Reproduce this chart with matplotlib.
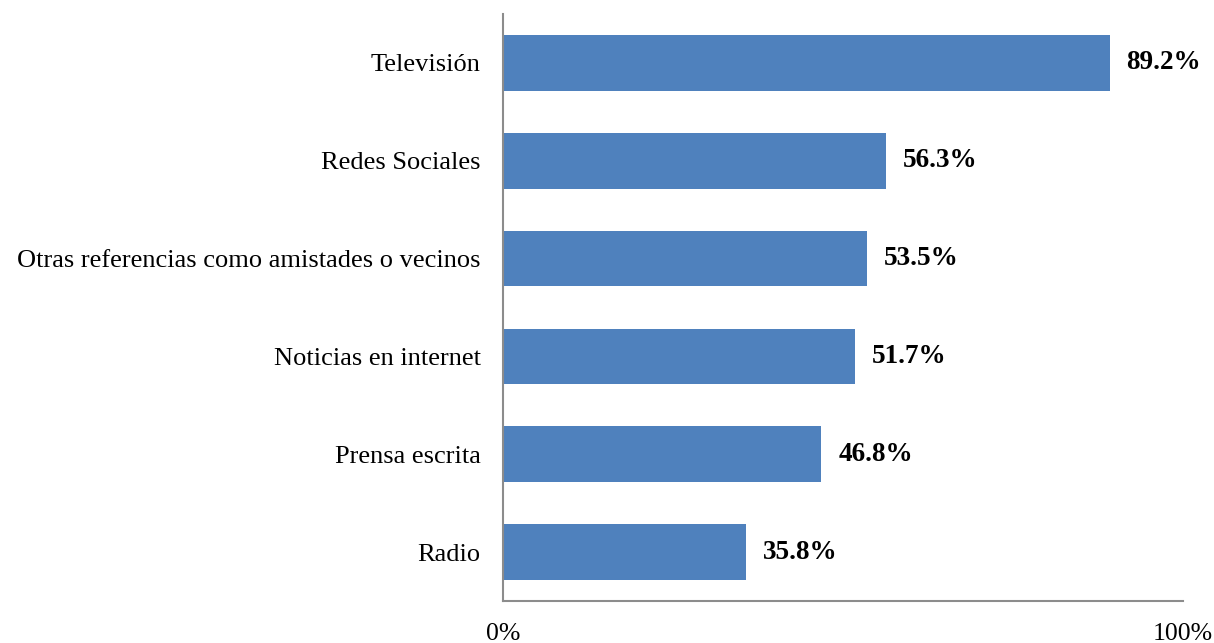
import matplotlib.pyplot as plt
import numpy as np

categorias = ['Televisión', 'Redes Sociales', 'Otras referencias como amistades o vecinos',
              'Noticias en internet', 'Prensa escrita', 'Radio']
valores = [89.2, 56.3, 53.5, 51.7, 46.8, 35.8]

plt.rcParams['font.family'] = ['Liberation Serif', 'DejaVu Serif']

fig = plt.figure(figsize=(12.14, 6.43), dpi=100)
ax = fig.add_axes([0.4143, 0.0653, 0.5602, 0.9129])

y = np.arange(len(categorias))
bars = ax.barh(y, valores, height=0.57, color='#4F81BD')

# etiquetas de valor
for b, v in zip(bars, valores):
    ax.annotate('%.1f%%' % v, (b.get_width(), b.get_y() + b.get_height() / 2),
                xytext=(17, 0), textcoords='offset pixels', va='center', ha='left',
                fontsize=19.5, fontweight='bold')

ax.set_yticks(y)
ax.set_yticklabels(categorias, fontsize=19)
ax.set_ylim(len(categorias) - 0.5, -0.5)
ax.set_xlim(0, 100)
ax.set_xticks([0, 100])
ax.set_xticklabels(['0%', '100%'], fontsize=18.5)
ax.tick_params(length=0)
ax.tick_params(axis='y', pad=16)
ax.tick_params(axis='x', pad=16)

for s in ['top', 'right']:
    ax.spines[s].set_visible(False)
for s in ['left', 'bottom']:
    ax.spines[s].set_color('#8C8C8C')
    ax.spines[s].set_linewidth(1.5)

fig.savefig('out.png', dpi=100)
